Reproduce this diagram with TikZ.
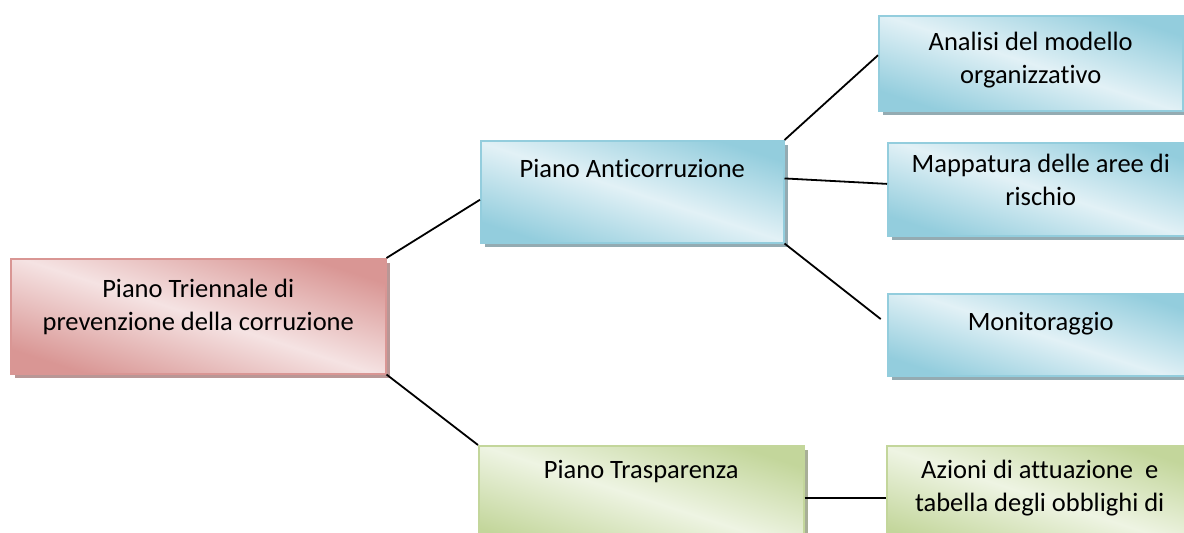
\documentclass[tikz,border=0pt]{standalone}
\usepackage{fontspec}
\setmainfont{Carlito}[Ligatures=NoCommon]
\usetikzlibrary{shadows}
\definecolor{rosaD}{HTML}{D99694}
\definecolor{rosaL}{HTML}{F5E3E3}
\definecolor{azzD}{HTML}{93CDDD}
\definecolor{azzL}{HTML}{E2F1F6}
\definecolor{verdeD}{HTML}{C3D69B}
\definecolor{verdeL}{HTML}{EEF4E3}
\begin{document}
\begin{tikzpicture}[x=1pt, y=-1pt,
    box/.style={anchor=north west, inner sep=0pt,
        execute at begin node={\centering\spaceskip=.226em\relax},
        font=\fontsize{26.5}{33}\selectfont, line width=1.5pt},
    rosso/.style={box, draw=rosaD, top color=rosaD, bottom color=rosaD,
        middle color=rosaL, shading angle=-18,
        drop shadow={shadow xshift=4pt, shadow yshift=-4pt, fill=rosaD!55!gray, opacity=.9}},
    azzurro/.style={box, draw=azzD, top color=azzD, bottom color=azzD,
        middle color=azzL, shading angle=-18,
        drop shadow={shadow xshift=4pt, shadow yshift=-4pt, fill=azzD!45!gray, opacity=.9}},
    verde/.style={box, draw=verdeD, top color=verdeD, bottom color=verdeD,
        middle color=verdeL, shading angle=-18,
        drop shadow={shadow xshift=4pt, shadow yshift=-4pt, fill=verdeD!45!gray, opacity=.9}},
    conn/.style={draw=black, line width=1.8pt}]
    \useasboundingbox (0,0) rectangle (1184,533);
    \clip (0,0) rectangle (1184,533);

    \node[rosso, text width=375pt, text height=39pt, text depth=76pt] (piano) at (10,258)
        {Piano Triennale di\\prevenzione della corruzione};
    \node[azzurro, text width=303pt, text height=37pt, text depth=65pt] (anti) at (480,140)
        {Piano Anticorruzione};
    \node[verde, text width=325pt, text height=33pt, text depth=71pt] (trasp) at (478,445)
        {Piano Trasparenza};

    \node[azzurro, text width=304pt, text height=35pt, text depth=60pt] (analisi) at (878,15)
        {Analisi del modello\\organizzativo};
    \node[azzurro, text width=306pt, text height=30pt, text depth=63pt] (mappa) at (887,142)
        {Mappatura delle aree di\\rischio};
    \node[azzurro, text width=306pt, text height=37pt, text depth=45pt] (monit) at (887,293)
        {Monitoraggio};
    \node[verde, text width=306pt, text height=33pt, text depth=71pt] (azioni) at (886,445)
        {Azioni di attuazione\ \ e\\tabella degli obblighi di};

    \draw[conn] (piano.north east) -- (anti.183);
    \draw[conn] (piano.south east) -- (trasp.north west);
    \draw[conn] (anti.north east) -- (analisi.177);
    \draw[conn] (anti.5) -- (mappa.178);
    \draw[conn, shorten >=8pt] (anti.south east) -- (monit.176);
    \draw[conn] (trasp) -- (azioni);
\end{tikzpicture}
\end{document}
